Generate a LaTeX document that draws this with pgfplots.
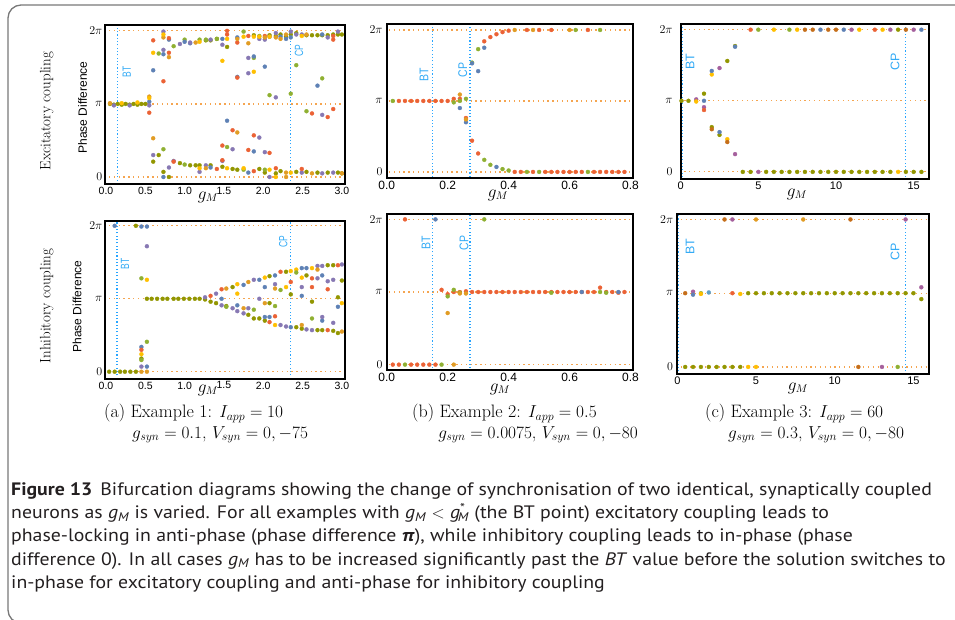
\documentclass[border=0pt]{standalone}
\usepackage{pgfplots}
\pgfplotsset{compat=1.18}
\usepackage{fontspec}
\setsansfont{Liberation Sans}
\newfontfamily\capfont{PT Sans}[FakeStretch=1.10]
\usepackage{graphicx}
\definecolor{cA}{RGB}{94,129,181}
\definecolor{cB}{RGB}{225,156,36}
\definecolor{cC}{RGB}{143,176,50}
\definecolor{cD}{RGB}{235,98,53}
\definecolor{cE}{RGB}{135,120,179}
\definecolor{cF}{RGB}{197,110,26}
\definecolor{cG}{RGB}{93,158,199}
\definecolor{cH}{RGB}{255,191,0}
\definecolor{cI}{RGB}{165,96,157}
\definecolor{cJ}{RGB}{146,150,0}
\definecolor{refor}{RGB}{245,165,80}
\definecolor{refbl}{RGB}{40,165,255}
\definecolor{lblbl}{RGB}{50,170,245}
\definecolor{framec}{RGB}{120,120,120}
\definecolor{captxt}{RGB}{35,31,32}
\pgfplotsset{
  bif/.style={
    scale only axis, anchor=south west, axis on top,
    axis line style={line width=1.8pt, black},
    ytick={0,1,2}, yticklabels={$0$,$\pi$,$2\pi$},
    major tick length=0pt, tick style={draw=none},
    yticklabel style={font=\fontsize{12}{12}\selectfont, inner sep=2.5pt},
    xticklabel style={font=\sffamily\fontsize{10.5}{11}\selectfont, inner sep=2.5pt},
  },
  d/.style={only marks, mark=*, mark size=2.0pt, color=#1, mark options={solid, fill=#1, draw=#1, line width=0.3pt}, forget plot},
  refl/.style={draw=refor, line width=1.2pt, dash pattern=on 1.3pt off 3.5pt, forget plot},
  vl/.style={draw=refbl, line width=1.2pt, dash pattern=on 1.1pt off 2.2pt, forget plot},
}
\begin{document}
\begin{tikzpicture}
\useasboundingbox (0,0) rectangle (955pt,-619pt);
\draw[draw=framec, line width=1.3pt, rounded corners=13pt] (8pt,-623pt) rectangle (975pt,-5pt);

% ---------- A top
\begin{axis}[bif, at={(105pt,-184.3pt)}, width=240pt, height=159.3pt,
  xmin=-0.013, xmax=3.04, ymin=-0.10, ymax=2.08,
  xtick={0,0.5,1,1.5,2,2.5,3}, xticklabels={0.0,0.5,1.0,1.5,2.0,2.5,3.0}]
\addplot[refl] coordinates {(-1,0)(20,0)};
\addplot[refl] coordinates {(-1,1)(20,1)};
\addplot[refl] coordinates {(-1,2)(20,2)};
\addplot[vl] coordinates {(0.15,-1)(0.15,3)};
\addplot[vl] coordinates {(2.35,-1)(2.35,3)};
\addplot[d=cJ] coordinates {(0.05,1.0)(0.10,0.99)(0.15,1.0)(0.20,0.99)(0.25,1.0)(0.30,0.99)(0.35,1.0)(0.40,0.99)(0.45,1.0)(0.50,1.0)(0.60,0.21)(0.67,0.30)(0.73,0.07)(0.80,0.00)(0.94,0.19)(1.07,0.16)(1.14,0.16)(1.19,0.16)(1.27,1.87)(1.33,0.16)(1.33,1.87)(1.41,1.89)(1.48,0.14)(1.54,1.78)(1.61,0.11)(1.67,0.10)(1.88,1.94)(1.95,0.11)(2.02,0.06)(2.08,1.94)(2.16,1.93)(2.16,0.05)(2.22,1.95)(2.22,0.08)(2.29,1.92)(2.35,1.95)(2.42,1.97)(2.42,0.07)(2.55,1.94)(2.55,0.07)(2.62,1.94)(2.69,1.94)(2.69,0.06)(2.75,1.94)(2.82,1.94)(2.82,0.06)(2.89,1.95)(2.95,1.95)(2.95,0.06)(3.0,1.95)(3.0,0.05)};
\addplot[d=cC] coordinates {(0.67,1.69)(0.73,0.38)(0.86,1.79)(1.0,1.88)(1.0,0.17)(1.19,1.88)(1.27,1.88)(1.41,1.89)(1.54,0.41)(1.75,1.99)(1.75,0.10)(1.88,1.63)(1.95,1.93)(2.02,0.10)(2.08,1.12)(2.35,1.14)(2.42,1.53)(2.55,0.90)(2.75,1.35)};
\addplot[d=cA] coordinates {(0.55,1.03)(0.60,1.46)(0.73,1.68)(0.73,0.00)(0.80,1.88)(1.0,1.85)(1.07,1.83)(1.33,0.13)(1.48,1.89)(1.54,0.77)(1.67,1.91)(1.67,1.37)(1.81,0.06)(1.88,1.65)(1.88,0.35)(2.02,1.51)(2.22,1.92)(2.29,1.89)(2.35,1.91)(2.69,1.25)(2.75,1.95)};
\addplot[d=cE] coordinates {(0.10,0.98)(0.30,0.98)(0.55,0.98)(0.60,0.30)(0.73,1.99)(0.73,1.74)(0.80,0.13)(0.86,0.22)(0.94,1.82)(1.07,1.84)(1.19,0.07)(1.27,0.16)(1.33,1.88)(1.48,1.81)(1.48,0.22)(1.61,0.38)(1.81,1.63)(1.81,1.42)(1.95,1.89)(1.95,0.54)(2.02,0.34)(2.02,1.88)(2.08,1.92)(2.08,0.00)(2.16,1.97)(2.16,1.09)(2.35,1.99)(2.42,1.95)(2.49,1.95)(2.49,0.06)(2.75,0.05)(2.75,0.85)(2.89,0.06)(2.82,1.91)(2.95,1.99)};
\addplot[d=cD] coordinates {(0.55,0.88)(0.60,1.87)(0.73,1.31)(0.80,1.90)(0.80,1.70)(0.86,0.21)(1.41,0.11)(1.48,0.43)(1.48,0.23)(1.54,2.0)(1.54,1.95)(1.61,0.64)(1.67,1.84)(1.67,1.36)(1.81,1.93)(1.81,0.37)(1.88,0.08)(1.88,0.57)(2.02,1.93)(2.08,0.33)(2.16,0.12)(2.49,0.11)(2.62,0.87)(2.82,0.82)(2.89,0.93)(2.89,1.93)(2.89,1.88)};
\addplot[d=cB] coordinates {(0.05,1.01)(0.55,1.10)(0.60,0.53)(0.73,1.91)(0.80,1.64)(1.14,1.84)(1.27,0.12)(1.67,0.61)(1.67,1.89)(1.81,1.83)(2.02,1.91)(2.16,1.91)(2.22,1.89)(2.29,1.95)(2.29,0.06)(2.29,0.00)(2.62,0.05)(2.55,1.95)(3.0,0.05)};
\addplot[d=cH] coordinates {(0.20,1.01)(0.40,1.02)(0.55,1.08)(0.60,1.70)(0.73,1.95)(1.19,1.85)(1.19,0.12)(1.48,1.59)(1.54,1.89)(1.54,0.12)(1.75,1.92)(1.75,0.12)(1.88,1.92)(1.88,1.44)(1.95,1.92)(2.08,1.92)(2.08,0.10)(2.16,0.00)(2.35,0.06)(2.49,1.93)};
\end{axis}

% ---------- A bottom
\begin{axis}[bif, at={(105pt,-379pt)}, width=240pt, height=158.3pt,
  xmin=-0.013, xmax=3.04, ymin=-0.10, ymax=2.07,
  xtick={0,0.5,1,1.5,2,2.5,3}, xticklabels={0.0,0.5,1.0,1.5,2.0,2.5,3.0}]
\addplot[refl] coordinates {(-1,0)(20,0)};
\addplot[refl] coordinates {(-1,1)(20,1)};
\addplot[refl] coordinates {(-1,2)(20,2)};
\addplot[vl] coordinates {(0.14,-1)(0.14,3)};
\addplot[vl] coordinates {(2.35,-1)(2.35,3)};
\addplot[d=cJ] coordinates {(0.04,0)(0.11,0)(0.18,0)(0.24,0)(0.31,0)(0.38,0)(0.38,2.0)(0.45,0.18)(0.52,1)(0.58,1)(0.65,1)(0.72,1)(0.78,1)(0.86,1)(0.92,1)(0.99,1)(1.06,1)(1.13,1)(1.19,1)(1.26,0.99)(1.33,0.96)(1.40,0.94)(1.53,0.90)(1.61,1.16)(1.81,0.78)(1.88,0.73)(1.95,0.73)(2.02,0.70)(2.08,1.31)(2.08,0.94)(2.29,1.37)(2.35,1.06)(2.42,0.61)(2.49,0.59)(2.55,1.32)(2.62,0.96)(2.69,0.57)(2.75,0.57)(2.82,1.46)(2.89,1.46)(2.89,0.56)(2.95,1.02)(2.95,0.53)(3.0,1.25)};
\addplot[d=cA] coordinates {(0.11,2.0)(0.45,1.99)(0.52,1.99)(0.45,0.34)(0.52,0.07)(1.47,1.00)(1.67,0.91)(1.75,1.19)(1.95,1.26)(2.02,1.16)(2.02,0.75)(2.08,0.75)(2.15,1.32)(2.35,0.61)(2.49,1.42)(2.49,1.04)(2.55,1.42)(2.75,1.32)(2.75,0.70)(2.95,0.89)};
\addplot[d=cE] coordinates {(0.52,1.72)(0.45,0.07)(1.26,1.02)(1.40,1.07)(1.47,0.91)(1.61,0.87)(1.67,0.83)(1.75,0.80)(1.81,0.87)(1.88,1.26)(1.95,1.00)(2.15,1.20)(2.22,0.64)(2.29,0.62)(2.49,1.16)(2.55,0.58)(2.62,0.57)(2.69,1.45)(2.69,1.28)(2.75,1.45)(2.75,0.75)(2.82,1.24)(2.89,1.26)(2.89,0.67)(3.0,1.47)};
\addplot[d=cD] coordinates {(0.45,0.30)(1.33,1.04)(1.47,1.13)(2.08,0.68)(2.15,0.76)(2.22,1.37)(2.35,1.23)(2.62,1.28)(2.62,1.16)(2.82,1.13)(2.82,0.57)(2.95,1.46)};
\addplot[d=cB] coordinates {(0.45,0)(0.52,0)(1.53,1.14)(1.75,0.87)(1.81,1.23)(2.02,0.94)(2.15,1.14)(2.49,0.64)(2.69,1.40)(3.0,0.55)};
\addplot[d=cH] coordinates {(0.45,0.24)(0.52,1.26)(1.67,1.20)(1.67,1.07)(2.02,1.29)(2.15,0.64)(2.29,1.16)(2.35,1.38)(2.42,1.40)(2.49,1.29)(2.62,1.42)(3.0,0.94)};
\addplot[d=cC] coordinates {(0.45,1.28)(0.52,0.41)(0.45,0.16)(1.53,0.89)(1.88,0.85)(2.15,0.90)(2.22,1.12)(2.42,1.36)(2.62,0.73)};
\end{axis}

% ---------- B top
\begin{axis}[bif, at={(386.7pt,-178.3pt)}, width=246pt, height=154pt,
  xmin=0, xmax=0.807, ymin=-0.09, ymax=2.08,
  xtick={0,0.2,0.4,0.6,0.8}, xticklabels={0.0,0.2,0.4,0.6,0.8},
  xticklabel style={font=\sffamily\fontsize{12}{12}\selectfont},
  yticklabel style={font=\fontsize{13}{13}\selectfont, inner sep=4pt}]
\addplot[refl] coordinates {(-1,0)(20,0)};
\addplot[refl] coordinates {(-1,1)(20,1)};
\addplot[refl] coordinates {(-1,2)(20,2)};
\addplot[vl] coordinates {(0.151,-1)(0.151,3)};
\addplot[vl] coordinates {(0.273,-1)(0.273,3)};
\addplot[d=cD] coordinates {(0.04,1)(0.06,1)(0.08,1)(0.10,1)(0.12,1)(0.14,1)(0.16,1)(0.18,1)(0.20,1)(0.22,1.03)(0.24,1.03)(0.26,0.76)(0.28,0.44)(0.30,0.26)(0.32,1.84)(0.34,1.90)(0.36,1.94)(0.38,1.97)(0.40,1.99)(0.46,2)(0.50,2)(0.54,2)(0.66,2)(0.42,0)(0.44,0)(0.48,0)(0.52,0)(0.54,0)(0.56,0)(0.58,0)(0.60,0)(0.62,0)(0.64,0)(0.68,0)(0.70,0)(0.72,0)(0.74,0)(0.76,0)(0.78,0)};
\addplot[d=cC] coordinates {(0.02,1)(0.22,0.98)(0.24,1.0)(0.26,1.03)(0.28,1.54)(0.30,1.73)(0.32,0.17)(0.34,0.10)(0.38,0.04)(0.40,0.02)(0.62,2)(0.70,2)(0.46,0)(0.50,0)(0.66,0)};
\addplot[d=cA] coordinates {(0.24,0.90)(0.26,0.70)(0.28,1.53)(0.30,1.42)(0.32,1.75)(0.36,0.07)};
\addplot[d=cB] coordinates {(0.24,1.09)(0.26,0.74)(0.42,2)(0.48,2)(0.60,2)};
\end{axis}

% ---------- B bottom
\begin{axis}[bif, at={(386.7pt,-370pt)}, width=246pt, height=155.7pt,
  xmin=0, xmax=0.807, ymin=-0.074, ymax=2.07,
  xtick={0,0.2,0.4,0.6,0.8}, xticklabels={0.0,0.2,0.4,0.6,0.8},
  xticklabel style={font=\sffamily\fontsize{12}{12}\selectfont},
  yticklabel style={font=\fontsize{13}{13}\selectfont, inner sep=4pt}]
\addplot[refl] coordinates {(-1,0)(20,0)};
\addplot[refl] coordinates {(-1,1)(20,1)};
\addplot[refl] coordinates {(-1,2)(20,2)};
\addplot[vl] coordinates {(0.149,-1)(0.149,3)};
\addplot[vl] coordinates {(0.273,-1)(0.273,3)};
\addplot[d=cD] coordinates {(0.06,2)(0.02,0)(0.04,0)(0.08,0)(0.10,0)(0.12,0)(0.14,0)(0.16,0)(0.18,1.03)(0.20,0.97)(0.22,1.0)(0.24,1.0)(0.26,1.01)(0.28,1)(0.30,1)(0.32,1)(0.34,1)(0.36,1)(0.38,1)(0.40,1)(0.42,1)(0.44,1)(0.46,1)(0.48,1)(0.50,1)(0.52,1)(0.54,1)(0.56,1)(0.58,1)(0.60,1)(0.62,1)(0.64,1)(0.66,1)(0.68,1)(0.70,1.06)(0.72,1)(0.74,1)(0.76,0.99)(0.78,1)};
\addplot[d=cC] coordinates {(0.06,0)(0.18,0)(0.32,2)(0.20,0.94)(0.22,1.03)(0.24,0.99)(0.54,0.99)(0.70,1.0)(0.72,0.99)};
\addplot[d=cB] coordinates {(0.20,0.71)(0.22,0)(0.24,0.98)(0.26,0.98)};
\addplot[d=cA] coordinates {(0.16,2)(0.64,1)(0.76,1)};
\end{axis}

% ---------- C top
\begin{axis}[bif, at={(680.7pt,-179pt)}, width=248pt, height=155pt,
  xmin=0, xmax=15.97, ymin=-0.10, ymax=2.08,
  xtick={0,5,10,15}, xticklabels={0,5,10,15},
  xticklabel style={font=\sffamily\fontsize{11}{11}\selectfont},
  yticklabel style={font=\fontsize{13}{13}\selectfont, inner sep=8pt}]
\addplot[refl] coordinates {(-1,0)(20,0)};
\addplot[refl] coordinates {(-1,1)(20,1)};
\addplot[refl] coordinates {(-1,2)(20,2)};
\addplot[vl] coordinates {(0.09,-1)(0.09,3)};
\addplot[vl] coordinates {(14.49,-1)(14.49,3)};
\addplot[d=cJ] coordinates {(0.05,1)(0.5,1)(1.5,1.10)(2.0,0.63)(2.5,0.52)(3.0,1.56)(3.5,1.77)(4.0,0)(4.5,0)(5.5,0)(6.0,0)(6.5,0)(7.0,0)(7.5,0)(8.0,0)(8.5,0)(9.0,0)(9.5,0)(10.0,0)(10.5,0)(11.0,0)(11.5,0)(12.0,0)(12.5,0)(13.0,0)(13.5,0)(14.5,0)(15.0,0)(15.5,0)(14.0,2)};
\addplot[d=cI] coordinates {(1.0,1.02)(1.5,0.91)(2.5,1.46)(3.5,0.25)(5.0,0)(11.0,2)(13.5,2)(15.0,2)};
\addplot[d=cH] coordinates {(1.0,0.99)(2.0,1.37)(3.0,0.46)(6.0,2)(7.5,2)(11.5,2)(13.0,2)(14.0,0)};
\addplot[d=cA] coordinates {(1.5,1.0)(2.0,1.42)(2.5,0.56)(3.5,1.76)(9.0,2)(10.5,2)(15.5,2)};
\addplot[d=cD] coordinates {(1.5,0.87)(4.5,2)(12.5,2)};
\addplot[d=cF] coordinates {(2.0,0.60)(3.0,0.42)(8.0,2)(8.5,2)(9.5,2)(10.0,2)(14.5,2)};
\addplot[d=cC] coordinates {(5.0,2)(7.0,2)};
\end{axis}

% ---------- C bottom
\begin{axis}[bif, at={(677.3pt,-374.3pt)}, width=251.4pt, height=160pt,
  xmin=0, xmax=15.97, ymin=-0.10, ymax=2.07,
  xtick={0,5,10,15}, xticklabels={0,5,10,15},
  xticklabel style={font=\sffamily\fontsize{11}{11}\selectfont},
  yticklabel style={font=\fontsize{13}{13}\selectfont, inner sep=4pt}]
\addplot[refl] coordinates {(-1,0)(20,0)};
\addplot[refl] coordinates {(-1,1)(20,1)};
\addplot[refl] coordinates {(-1,2)(20,2)};
\addplot[vl] coordinates {(0.1,-1)(0.1,3)};
\addplot[vl] coordinates {(14.5,-1)(14.5,3)};
\addplot[d=cJ] coordinates {(0.5,0)(1.0,0)(1.5,0)(2.0,0)(2.5,0)(3.0,0)(3.5,0)(4.0,0)(4.5,1)(5.0,1)(5.5,1)(6.0,1)(6.5,1)(7.0,1)(7.5,1)(8.0,1)(8.5,1)(9.0,1)(9.5,1)(10.0,1)(10.5,1)(11.0,1)(11.5,1)(12.0,1)(12.5,1)(13.0,1)(13.5,1)(14.0,1)(14.5,1)(15.0,1)(15.5,0.92)(16.0,0.69)};
\addplot[d=cF] coordinates {(3.0,2)(11.0,2)(0.5,1.0)(11.5,0)};
\addplot[d=cI] coordinates {(3.5,2)(14.5,2)(1.0,1.02)(15.5,1.08)(13.0,0)};
\addplot[d=cB] coordinates {(5.0,2)(8.0,2)(16.0,1.30)};
\addplot[d=cA] coordinates {(1.0,0.98)};
\addplot[d=cC] coordinates {(1.5,1.0)(14.0,0)};
\addplot[d=cH] coordinates {(1.5,0.99)(4.0,0.99)(4.5,0)(5.0,0)};
\addplot[d=cG] coordinates {(2.0,1.01)};
\addplot[d=cD] coordinates {(3.5,1.0)};
\end{axis}

% ---------- labels
\node[rotate=90, font=\fontsize{15}{15}\selectfont] at (46.7pt,-111pt) {Excitatory coupling};
\node[rotate=90, font=\fontsize{15}{15}\selectfont] at (46.7pt,-306pt) {Inhibitory coupling};
\node[rotate=90, font=\sffamily\fontsize{12}{12}\selectfont] at (82.7pt,-107.5pt) {Phase Difference};
\node[rotate=90, font=\sffamily\fontsize{12}{12}\selectfont] at (77pt,-306.5pt) {Phase Difference};

\tikzset{bt/.style={rotate=90, text=lblbl, inner sep=0pt}}
\tikzset{bta/.style={bt, font=\sffamily\fontsize{8.5}{8.5}\selectfont}}
\tikzset{btb/.style={bt, font=\sffamily\fontsize{10.5}{10.5}\selectfont}}
\tikzset{btc/.style={bt, font=\sffamily\fontsize{12.5}{12.5}\selectfont}}
\node[bta] at (126.7pt,-71.7pt) {\scalebox{1}[1.4]{BT}};
\node[bta] at (299pt,-51pt) {\scalebox{1}[1.4]{CP}};
\node[bta] at (125pt,-264pt) {\scalebox{1}[1.4]{BT}};
\node[bta] at (283.3pt,-241.7pt) {\scalebox{1}[1.4]{CP}};
\node[btb] at (424pt,-75pt) {\scalebox{1}[1.2]{BT}};
\node[btb] at (462.7pt,-70pt) {\scalebox{1}[1.2]{CP}};
\node[btb] at (426pt,-243pt) {\scalebox{1}[1.2]{BT}};
\node[btb] at (464pt,-243pt) {\scalebox{1}[1.2]{CP}};
\node[btc] at (690pt,-61.7pt) {BT};
\node[btc] at (895pt,-61.7pt) {CP};
\node[btc] at (690pt,-247pt) {BT};
\node[btc] at (895pt,-252pt) {CP};

\tikzset{gm/.style={inner sep=0pt, font=\fontsize{16}{16}\selectfont}}
\node[gm] at (208pt,-197pt) {$g_M$};
\node[gm] at (208pt,-390pt) {$g_M$};
\node[gm] at (498pt,-195pt) {$g_M$};
\node[gm] at (500pt,-389pt) {$g_M$};
\node[gm] at (797pt,-194pt) {$g_M$};
\node[gm] at (798pt,-388pt) {$g_M$};

\tikzset{sc/.style={inner sep=0pt, font=\fontsize{18}{18}\selectfont}}
\node[sc, anchor=base west] at (104pt,-417.7pt) {(a) Example 1: $I_{app}=10$};
\node[sc, anchor=base west] at (132pt,-438pt) {$g_{syn}=0.1$, $V_{syn}=0,-75$};
\node[sc, anchor=base west] at (412pt,-417.7pt) {(b) Example 2: $I_{app}=0.5$};
\node[sc, anchor=base east] at (638pt,-438pt) {$g_{syn}=0.0075$, $V_{syn}=0,-80$};
\node[sc, anchor=base west] at (705pt,-417.7pt) {(c) Example 3: $I_{app}=60$};
\node[sc, anchor=base west] at (728pt,-438pt) {$g_{syn}=0.3$, $V_{syn}=0,-80$};

\tikzset{figcap/.style={anchor=base west, inner sep=0pt, text=captxt, font=\capfont\fontsize{18}{18}\selectfont}}
\node[figcap] at (11pt,-495pt) {\textbf{Figure 13}\hspace{0.45em}Bifurcation diagrams showing the change of synchronisation of two identical, synaptically coupled};
\node[figcap] at (11pt,-518.3pt) {neurons as \textit{g}\textsubscript{\textit{M}} is varied. For all examples with \textit{g}\textsubscript{\textit{M}} $<$ \textit{g}\textsuperscript{*}\kern-0.42em\textsubscript{\textit{M}} (the BT point) excitatory coupling leads to};
\node[figcap] at (11pt,-541.7pt) {phase-locking in anti-phase (phase difference \textbf{\textit{π}}), while inhibitory coupling leads to in-phase (phase};
\node[figcap] at (11pt,-565pt) {difference 0). In all cases \textit{g}\textsubscript{\textit{M}} has to be increased significantly past the \textit{BT} value before the solution switches to};
\node[figcap] at (11pt,-588.3pt) {in-phase for excitatory coupling and anti-phase for inhibitory coupling};
\end{tikzpicture}
\end{document}
